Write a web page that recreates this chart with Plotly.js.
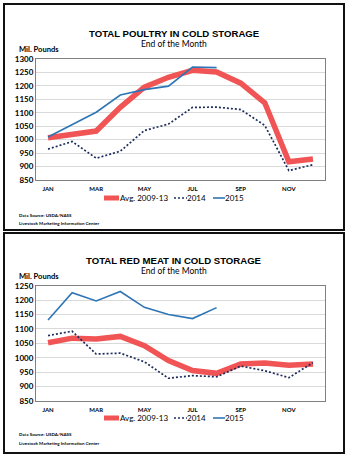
<!DOCTYPE html>
<html><head><meta charset="utf-8">
<script src="https://cdn.plot.ly/plotly-3.0.1.min.js"></script>
<style>html,body{margin:0;padding:0;background:#fff}#c{width:349px;height:458px}</style>
</head><body><div id="c"></div>
<script>
const months = ['JAN','FEB','MAR','APR','MAY','JUN','JUL','AUG','SEP','OCT','NOV','DEC'];
const tickMonths = ['JAN','MAR','MAY','JUL','SEP','NOV'];
const seriesNames = ['Avg. 2009-13','2014','2015'];

const poultryAvg  = [1007,1018,1032,1120,1195,1232,1258,1252,1210,1137,918,928];
const poultry2014 = [965,993,931,957,1034,1058,1120,1121,1112,1053,885,907];
const poultry2015 = [1010,1055,1102,1166,1186,1199,1270,1268];

const redAvg  = [1052,1068,1065,1074,1042,990,956,946,978,982,974,978];
const red2014 = [1077,1092,1013,1016,986,929,938,934,971,955,931,983];
const red2015 = [1131,1226,1197,1230,1175,1150,1136,1174];

const F = 'Lato, "Liberation Sans", Arial, sans-serif';
const FT = '"Liberation Sans", Arial, sans-serif';
const colors = {avg:'#f05454', y14:'#1f2d5c', y15:'#2e75b6'};
const styles = [
  {color:colors.avg, width:5.5, dash:'solid'},
  {color:colors.y14, width:1.7, dash:'2px,2px'},
  {color:colors.y15, width:1.6, dash:'solid'}
];

function traces(series, xa, ya){
  return series.map((s,i)=>({x: months.slice(0,s.length), y: s, name: seriesNames[i], mode:'lines',
    xaxis:xa, yaxis:ya, showlegend:false, line:styles[i]}));
}

const data = traces([poultryAvg, poultry2014, poultry2015], 'x','y')
  .concat(traces([redAvg, red2014, red2015], 'x2','y2'));

const W=349, H=458;
const px = v => v/W, py = v => 1 - v/H;

function xax(anchor){
  return {domain:[px(36),px(325)], anchor:anchor, type:'category', categoryorder:'array', categoryarray:months,
    tickmode:'array', tickvals:tickMonths, ticktext:tickMonths, range:[-0.5,11.5],
    tickfont:{family:F, size:6, color:'#000', weight:'bold'}, showgrid:false,
    showline:true, linecolor:'#7f7f7f', linewidth:1, mirror:true, ticks:'outside', ticklen:3, tickcolor:'#fff', fixedrange:true};
}
function yax(anchor, dom, range, dt){
  return {domain:dom, anchor:anchor, range:range, dtick:dt, tick0:850,
    tickfont:{family:F, size:8, color:'#000', weight:'bold'},
    showgrid:true, gridcolor:'#d9d9d9', gridwidth:1, showline:true, linecolor:'#7f7f7f', linewidth:1, mirror:true,
    ticks:'', zeroline:false, fixedrange:true};
}

function ann(text, x, y, size, bold, anchor, fam){
  return {text: bold ? '<b>'+text+'</b>' : text, x:px(x), y:py(y), xref:'paper', yref:'paper',
    xanchor:anchor||'center', yanchor:'middle', showarrow:false, font:{family:fam||F, size:size, color:'#000'}};
}

// custom legend (symbol + label) for a panel centered on row y
const legendSym = [[104,119],[174,187],[213,225]];
const legendTxt = [120,187,225];
function legend(y){
  const shapes = styles.map((s,i)=>({type:'line', xref:'paper', yref:'paper',
    x0:px(legendSym[i][0]), x1:px(legendSym[i][1]), y0:py(y), y1:py(y),
    line:{color:s.color, width:s.width===5.5?5:1.6, dash:s.dash}}));
  const anns = seriesNames.map((n,i)=>Object.assign(ann(n, legendTxt[i], y, 8, false, 'left'),{xshift:-2}));
  return {shapes, anns};
}
const lg1 = legend(198), lg2 = legend(418);

const layout = {
  width:W, height:H, margin:{l:0,r:0,t:0,b:0}, paper_bgcolor:'#fff', plot_bgcolor:'#fff',
  showlegend:false,
  xaxis: xax('y'), yaxis: yax('x',[py(180),py(59)],[850,1300],50),
  xaxis2: xax('y2'), yaxis2: yax('x2',[py(401),py(285.7)],[850,1250],50),
  annotations:[
    ann('TOTAL POULTRY IN COLD STORAGE',174,33,9.6,true,'center',FT),
    ann('End of the Month',174,43.5,8.5,false),
    ann('Mil. Pounds',17,49,7.6,true,'left'),
    ann('Data Source: USDA/NASS',17,215,4.5,true,'left'),
    ann('Livestock Marketing Information Center',17,223,4.5,true,'left'),
    ann('TOTAL RED MEAT IN COLD STORAGE',174,260.5,9.6,true,'center',FT),
    ann('End of the Month',174,271,8.5,false),
    ann('Mil. Pounds',17,276.3,7.6,true,'left'),
    ann('Data Source: USDA/NASS',17,434,4.5,true,'left'),
    ann('Livestock Marketing Information Center',17,443,4.5,true,'left')
  ].concat(lg1.anns, lg2.anns),
  shapes:[
    {type:'rect', xref:'paper', yref:'paper', x0:px(4), x1:px(344), y0:py(230), y1:py(4), line:{color:'#111', width:2}},
    {type:'rect', xref:'paper', yref:'paper', x0:px(4), x1:px(344), y0:py(453), y1:py(233), line:{color:'#111', width:2}}
  ].concat(lg1.shapes, lg2.shapes)
};

Plotly.newPlot('c', data, layout, {displayModeBar:false, staticPlot:true});
</script>
</body></html>
